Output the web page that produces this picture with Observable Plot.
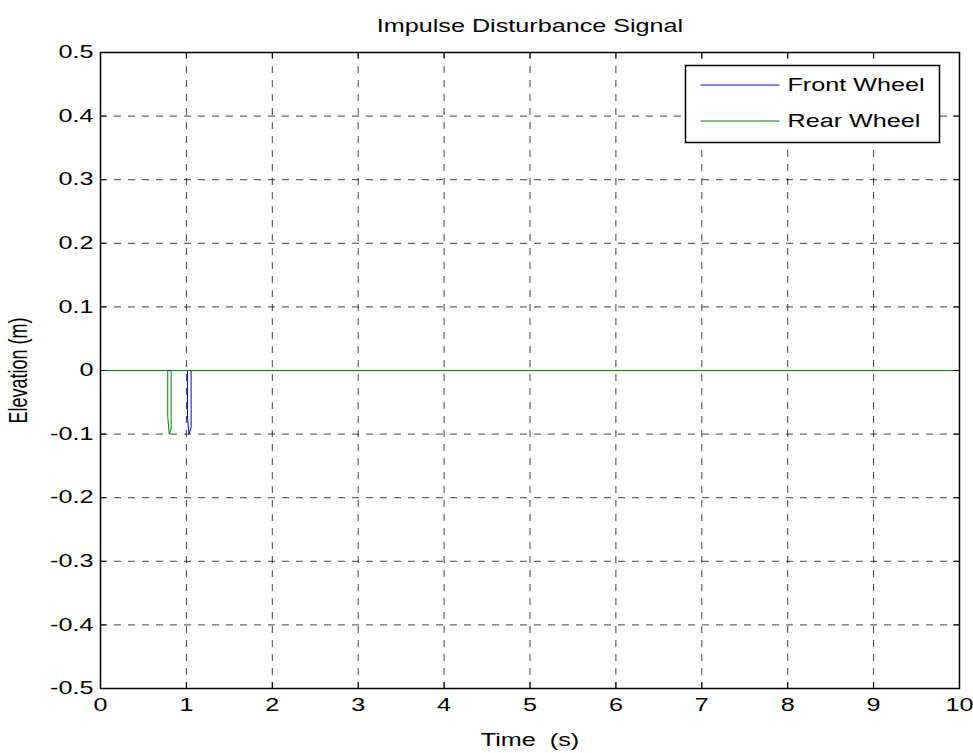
<!DOCTYPE html>
<html>
<head>
<meta charset="utf-8">
<script src="https://cdn.jsdelivr.net/npm/d3@7"></script>
<script src="https://cdn.jsdelivr.net/npm/@observablehq/plot@0.6"></script>
<style>
  html, body { margin: 0; padding: 0; background: #fff; }
  #wrap { position: relative; width: 973px; height: 753px; }
  #wrap > svg { display: block; }
</style>
</head>
<body>
<div id="wrap"></div>
<script>
// Axis ticks
const xTicks = [0, 1, 2, 3, 4, 5, 6, 7, 8, 9, 10];
const yTicks = [-0.5, -0.4, -0.3, -0.2, -0.1, 0, 0.1, 0.2, 0.3, 0.4, 0.5];

// Road elevation under each wheel (m) against time (s)
const frontTime      = [0, 1.013, 1.013, 1.03, 1.055, 1.055, 10];
const frontElevation = [0, 0, -0.075, -0.1, -0.09, 0, 0];
const rearTime       = [0, 0.783, 0.783, 0.80, 0.822, 0.822, 10];
const rearElevation  = [0, 0, -0.072, -0.1, -0.092, 0, 0];

const seriesNames  = ["Front Wheel", "Rear Wheel"];
const seriesColors = ["#0000ff", "#008000"];

const titleText = "Impulse Disturbance Signal";
const xLabel = "Time  (s)";
const yLabel = "Elevation (m)";

const W = 973, H = 753;
const margin = {left: 100, right: 14, top: 52, bottom: 65};
const frameH = H - margin.top - margin.bottom;
const frameW = W - margin.left - margin.right;
const tickLen = 6;
const textStretch = 1.4;
const font = "'Liberation Sans', Arial, sans-serif";

const front = frontTime.map((t, i) => ({t, z: frontElevation[i]}));
const rear  = rearTime.map((t, i) => ({t, z: rearElevation[i]}));
const inner = a => a.slice(1, -1);
const fmt = d => String(d);
const grid = {stroke: "#000", strokeOpacity: 0.75, strokeWidth: 1, strokeDasharray: "7,7"};

const chart = Plot.plot({
  width: W,
  height: H,
  marginLeft: margin.left,
  marginRight: margin.right,
  marginTop: margin.top,
  marginBottom: margin.bottom,
  style: {fontSize: "18px", fontFamily: font, color: "#000", background: "#fff"},
  x: {domain: [0, 10], ticks: xTicks, tickFormat: fmt, tickSize: 0, tickPadding: 10, label: null},
  y: {domain: [-0.5, 0.5], ticks: yTicks, tickFormat: fmt, tickSize: 0, tickPadding: 7, label: null},
  marks: [
    // dashed grid
    Plot.ruleX(inner(xTicks), {x: d => d, ...grid}),
    Plot.ruleY(inner(yTicks), {y: d => d, ...grid}),
    // signals
    Plot.line(front, {x: "t", y: "z", stroke: seriesColors[0], strokeWidth: 1}),
    Plot.line(rear,  {x: "t", y: "z", stroke: seriesColors[1], strokeWidth: 1}),
    // inward tick marks on all four sides
    Plot.tickX(xTicks, {x: d => d, insetTop: frameH - tickLen, stroke: "#000"}),
    Plot.tickX(xTicks, {x: d => d, insetBottom: frameH - tickLen, stroke: "#000"}),
    Plot.tickY(yTicks, {y: d => d, insetRight: frameW - tickLen, stroke: "#000"}),
    Plot.tickY(yTicks, {y: d => d, insetLeft: frameW - tickLen, stroke: "#000"}),
    Plot.frame({stroke: "#000", strokeWidth: 1.5}),
    // title and axis labels
    Plot.text([titleText], {text: d => d, frameAnchor: "top", lineAnchor: "middle", dy: -26, fontSize: 18, fill: "#000"}),
    Plot.text([xLabel], {text: d => d.replace(/ /g, "\u00a0"), frameAnchor: "bottom", lineAnchor: "middle", dy: 52, fontSize: 18, fill: "#000"}),
    Plot.text([yLabel], {text: d => d, frameAnchor: "left", textAnchor: "middle", lineAnchor: "middle", dx: -82, rotate: -90, fontSize: 18, fill: "#000"})
  ]
});

const wrap = document.getElementById("wrap");
wrap.append(chart);

// Legend box in the upper right corner of the axes
const legendBox = {x: 685.5, y: 65.5, w: 254, h: 77};
const lg = d3.select(chart).append("g").attr("class", "legend");
lg.append("rect")
  .attr("x", legendBox.x).attr("y", legendBox.y)
  .attr("width", legendBox.w).attr("height", legendBox.h)
  .attr("fill", "#fff").attr("stroke", "#000").attr("stroke-width", 1.5);
const rows = lg.selectAll("g.item").data(seriesNames).join("g")
  .attr("class", "item")
  .attr("transform", (d, i) => `translate(${legendBox.x}, ${legendBox.y + 19.5 + i * 36})`);
rows.append("line")
  .attr("x1", 15).attr("x2", 94).attr("y1", 0).attr("y2", 0)
  .attr("stroke", (d, i) => seriesColors[i]).attr("stroke-width", 1.2);
rows.append("text")
  .attr("x", 102).attr("dy", "0.35em")
  .attr("text-anchor", "start")
  .attr("font-family", font).attr("font-size", 18).attr("fill", "#000")
  .text(d => d);

// Wide glyphs: stretch every label horizontally about its anchor point
const svgBox = chart.getBoundingClientRect();
chart.querySelectorAll("text").forEach(t => {
  const parent = t.parentNode;
  const r = t.getBoundingClientRect();
  const anchor = getComputedStyle(t).textAnchor;
  const ax = (anchor === "end" ? r.right : anchor === "middle" ? (r.left + r.right) / 2 : r.left) - svgBox.left;
  const pm = DOMMatrix.fromMatrix(parent.getCTM());
  const s = new DOMMatrix([textStretch, 0, 0, 1, ax * (1 - textStretch), 0]);
  const m = pm.inverse().multiply(s).multiply(pm);
  const g = document.createElementNS("http://www.w3.org/2000/svg", "g");
  g.setAttribute("transform", `matrix(${m.a},${m.b},${m.c},${m.d},${m.e},${m.f})`);
  parent.insertBefore(g, t);
  g.appendChild(t);
});
</script>
</body>
</html>
